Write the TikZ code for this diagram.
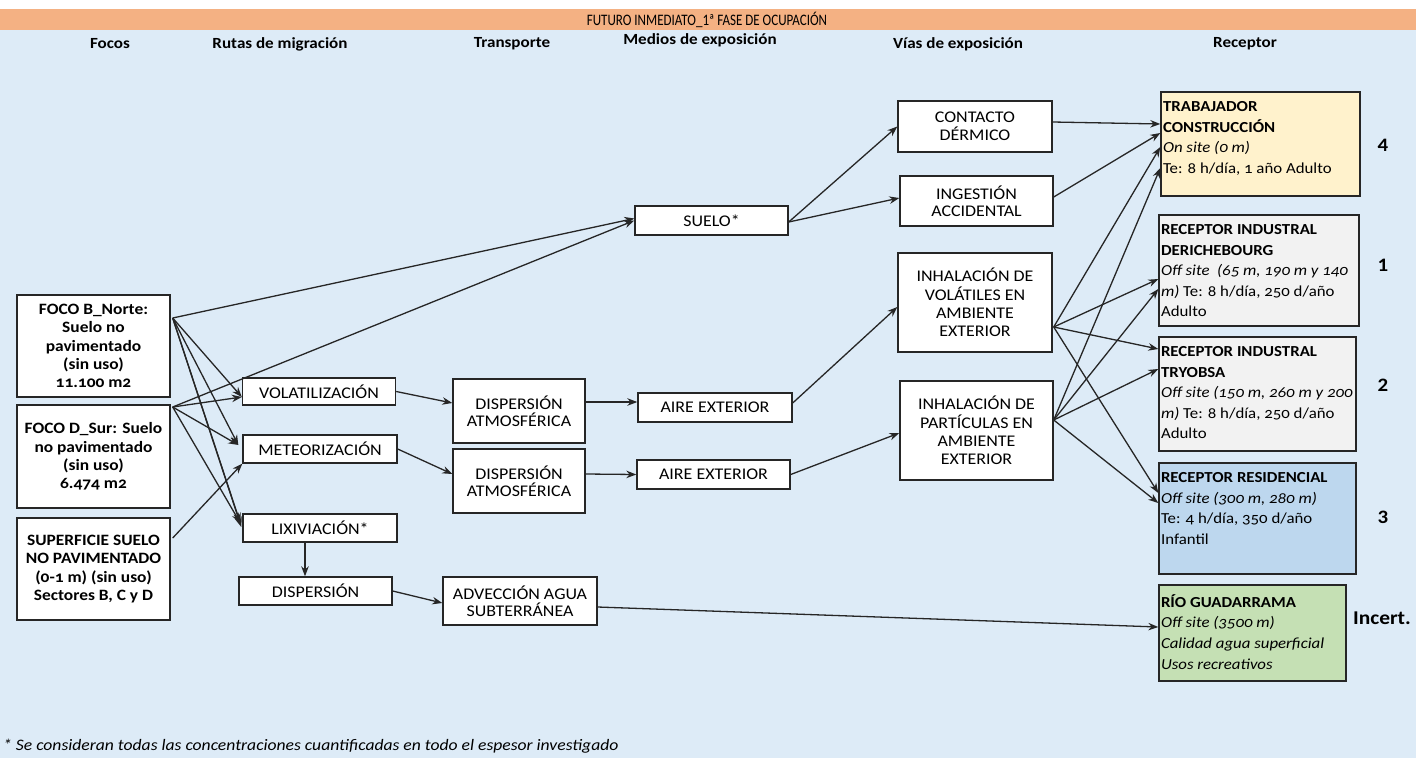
\documentclass[tikz,border=0pt]{standalone}
\usepackage{fontspec}
\setmainfont{Carlito}[Numbers=OldStyle, FakeStretch=1.1]
\usetikzlibrary{arrows.meta,calc}
\definecolor{bgblue}{HTML}{DDEBF7}
\definecolor{hdrorange}{HTML}{F4B183}
\definecolor{trabc}{HTML}{FFF2CC}
\definecolor{indc}{HTML}{F2F2F2}
\definecolor{resc}{HTML}{BDD7EE}
\definecolor{rioc}{HTML}{C5E0B4}
\definecolor{linec}{HTML}{262626}
\begin{document}
\begin{tikzpicture}[x=1pt,y=-1pt,
  bx/.style={draw=linec, fill=white, line width=1.4pt, align=center, inner sep=2pt,
    font=\fontsize{16.3}{17.5}\selectfont},
  foc/.style={bx, font=\bfseries\fontsize{15.8}{18.3}\selectfont},
  rc/.style={draw=linec, line width=1.4pt},
  rtext/.style={anchor=north west, align=left, inner xsep=2.5pt, inner ysep=10pt,
    font=\fontsize{15.3}{20.6}\selectfont},
  arr/.style={-{Stealth[length=10pt,width=7.5pt]}, line width=1.3pt, draw=linec},
  colh/.style={font=\bfseries\fontsize{15.5}{18}\selectfont},
  num/.style={font=\bfseries\fontsize{19}{22}\selectfont\addfontfeatures{Numbers=Lining}}
]
\useasboundingbox (0,0) rectangle (1416,758);
\fill[bgblue] (0,0) rectangle (1416,758);
\fill[white] (0,0) rectangle (1416,9);
\fill[hdrorange] (0,9) rectangle (1416,30);
\node (title) at (707,19.5) {\scalebox{0.74}[1]{\fontsize{16}{18}\selectfont\addfontfeatures{Numbers=Lining}FUTURO INMEDIATO\_1ª FASE DE OCUPACIÓN}};

% column headers
\node[colh] (h1) at (110,44) {Focos};
\node[colh] (h2) at (280,44) {Rutas de migración};
\node[colh] (h3) at (512,44) {Transporte};
\node[colh] (h4) at (700,40) {Medios de exposición};
\node[colh] (h5) at (958,44) {Vías de exposición};
\node[colh] (h6) at (1245,44) {Receptor};

% foci
\node[foc, minimum width=153, minimum height=102] (focoB) at (93.5,346) {FOCO B\_Norte:\\ Suelo no\\ pavimentado\\ (sin uso)\\ 11.100 m2};
\node[foc, minimum width=153, minimum height=103] (focoD) at (93.5,456.5) {FOCO D\_Sur: Suelo\\ no pavimentado\\ (sin uso)\\ 6.474 m2};
\node[foc, minimum width=153, minimum height=102] (sup) at (93.5,569) {SUPERFICIE SUELO\\ NO PAVIMENTADO\\ (0-1 m) (sin uso)\\ Sectores B, C y D};

% migration routes
\node[bx, minimum width=153, minimum height=27] (volat) at (319,391.5) {VOLATILIZACIÓN};
\node[bx, minimum width=154, minimum height=28] (meteor) at (320,449) {METEORIZACIÓN};
\node[bx, minimum width=154, minimum height=28] (lixiv) at (320,528) {LIXIVIACIÓN*};
\node[bx, minimum width=153, minimum height=28] (disp) at (315.5,591) {DISPERSIÓN};

% transport
\node[bx, minimum width=132, minimum height=64] (dat1) at (519,411) {DISPERSIÓN\\ ATMOSFÉRICA};
\node[bx, minimum width=132, minimum height=64] (dat2) at (519,481) {DISPERSIÓN\\ ATMOSFÉRICA};
\node[bx, minimum width=154, minimum height=48] (adv) at (520,601) {ADVECCIÓN AGUA\\ SUBTERRÁNEA};

% exposure media
\node[bx, minimum width=153, minimum height=29] (suelo) at (711.5,220.5) {SUELO*};
\node[bx, minimum width=154, minimum height=29] (aire1) at (715,407.5) {AIRE EXTERIOR};
\node[bx, minimum width=153, minimum height=29] (aire2) at (713.5,474.5) {AIRE EXTERIOR};

% exposure routes
\node[bx, minimum width=154, minimum height=51] (contacto) at (975,126.5) {CONTACTO\\ DÉRMICO};
\node[bx, minimum width=153, minimum height=50] (ingest) at (976.5,201) {INGESTIÓN\\ ACCIDENTAL};
\node[bx, minimum width=154, minimum height=99, font=\fontsize{16.3}{18.3}\selectfont] (inhvol) at (975,302.5) {INHALACIÓN DE\\ VOLÁTILES EN\\ AMBIENTE\\ EXTERIOR};
\node[bx, minimum width=153, minimum height=99, font=\fontsize{16.3}{18.3}\selectfont] (inhpar) at (976.5,430.5) {INHALACIÓN DE\\ PARTÍCULAS EN\\ AMBIENTE\\ EXTERIOR};

% receptors
\node[rc, fill=trabc, minimum width=199, minimum height=104] (trab) at (1260.5,144) {};
\node[rtext] (trabt) at (trab.north west) {\textbf{TRABAJADOR}\\ \textbf{CONSTRUCCIÓN}\\ \textit{On site (0 m)}\\ Te: 8 h/día, 1 año Adulto};
\node[rc, fill=indc, minimum width=200, minimum height=111] (derich) at (1259,270.5) {};
\node[rtext] (dericht) at (derich.north west) {\textbf{RECEPTOR INDUSTRAL}\\ \textbf{DERICHEBOURG}\\ \textit{Off site\ \ (65 m, 190 m y 140}\\ \textit{m)} Te: 8 h/día, 250 d/año\\ Adulto};
\node[rc, fill=indc, minimum width=197, minimum height=114] (tryob) at (1257.5,394) {};
\node[rtext] (tryobt) at (tryob.north west) {\textbf{RECEPTOR INDUSTRAL}\\ \textbf{TRYOBSA}\\ \textit{Off site (150 m, 260 m y 200}\\ \textit{m)} Te: 8 h/día, 250 d/año\\ Adulto};
\node[rc, fill=resc, minimum width=197, minimum height=111] (resid) at (1257.5,518.5) {};
\node[rtext] (residt) at (resid.north west) {\textbf{RECEPTOR RESIDENCIAL}\\ \textit{Off site (300 m, 280 m)}\\ Te: 4 h/día, 350 d/año\\ Infantil};
\node[rc, fill=rioc, minimum width=187, minimum height=96] (rio) at (1252.5,633) {};
\node[rtext] (riot) at (rio.north west) {\textbf{RÍO GUADARRAMA}\\ \textit{Off site (3500 m)}\\ \textit{Calidad agua superficial}\\ \textit{Usos recreativos}};

% scores
\node[num] (n4) at (1383,145) {4};
\node[num] (n1) at (1383,265) {1};
\node[num] (n2) at (1383,385) {2};
\node[num] (n3) at (1383,517) {3};
\node[num, font=\bfseries\fontsize{19.5}{22}\selectfont] (ninc) at (1382,618) {Incert.};

% footnote
\node[anchor=west, inner sep=0pt] (fn) at (3,746) {\itshape\fontsize{16}{17}\selectfont * Se consideran todas las concentraciones cuantificadas en todo el espesor investigado};

% connectors: foci
\coordinate (bo) at ($(focoB.east)+(2,-28)$);
\coordinate (do) at ($(focoD.east)+(2,-49.5)$);
\coordinate (so) at ($(sup.east)+(2,-31)$);
\draw[arr] (bo) -- ($(suelo.west)+(0,-2)$);
\draw[arr] (do) -- ($(suelo.west)+(0,0)$);
\draw[arr] (bo) -- ($(volat.west)+(0,5.5)$);
\draw[arr] (do) -- ($(volat.west)+(0,5.5)$);
\draw[arr] (bo) -- ($(meteor.west)+(-4,-4)$);
\draw[arr] (do) -- ($(meteor.west)+(-4,-4)$);
\draw[arr] (so) -- ($(meteor.south west)+(0,0)$);
\draw[arr] (bo) -- ($(lixiv.west)+(-2,-5)$);
\draw[arr] (bo) -- ($(lixiv.west)+(-1,-1)$);
\draw[arr] (do) -- ($(lixiv.west)+(-2,-5)$);

% migration -> transport
\draw[arr] (volat.east) -- ($(dat1.west)+(0,-8)$);
\draw[arr] (meteor.east) -- ($(dat2.west)+(0,-7)$);
\draw[arr] ($(lixiv.south)+(-15,0)$) -- ($(disp.north)+(-10.5,0)$);
\draw[arr] (disp.east) -- ($(adv.west)+(0,2)$);

% transport -> media
\draw[arr] ($(dat1.east)+(0,-9)$) -- ($(aire1.west)+(0,-5.5)$);
\draw[arr] ($(dat2.east)+(0,-7)$) -- ($(aire2.west)+(0,0)$);
\draw[arr] ($(adv.east)+(0,6)$) -- ($(rio.west)+(0,-6)$);

% media -> routes
\draw[arr] ($(suelo.east)+(0,1.5)$) -- (contacto.west);
\draw[arr] ($(suelo.east)+(0,1.5)$) -- ($(ingest.west)+(0,-3)$);
\draw[arr] ($(aire1.east)+(0,-4.5)$) -- ($(inhvol.west)+(0,4.5)$);
\draw[arr] (aire2.east) -- ($(inhpar.west)+(0,2.5)$);

% routes -> receptors
\coordinate (vo) at ($(inhvol.east)+(1,24.5)$);
\coordinate (po) at ($(inhpar.east)+(0,-10.5)$);
\draw[arr] ($(contacto.east)+(0,-4.5)$) -- ($(trab.west)+(0,-20)$);
\draw[arr] ($(ingest.east)+(0,-4)$) -- ($(trab.west)+(0,-11)$);
\draw[arr] (vo) -- ($(trab.west)+(0,3)$);
\draw[arr] (po) -- ($(trab.west)+(0,24)$);
\draw[arr] (vo) -- ($(derich.west)+(0,8.5)$);
\draw[arr] (po) -- ($(derich.west)+(0,18.5)$);
\draw[arr] (vo) -- ($(tryob.west)+(0,-45)$);
\draw[arr] (po) -- ($(tryob.west)+(0,-25)$);
\draw[arr] (vo) -- ($(resid.west)+(0,-25.5)$);
\draw[arr] (po) -- ($(resid.west)+(0,-15.5)$);
\end{tikzpicture}
\end{document}
